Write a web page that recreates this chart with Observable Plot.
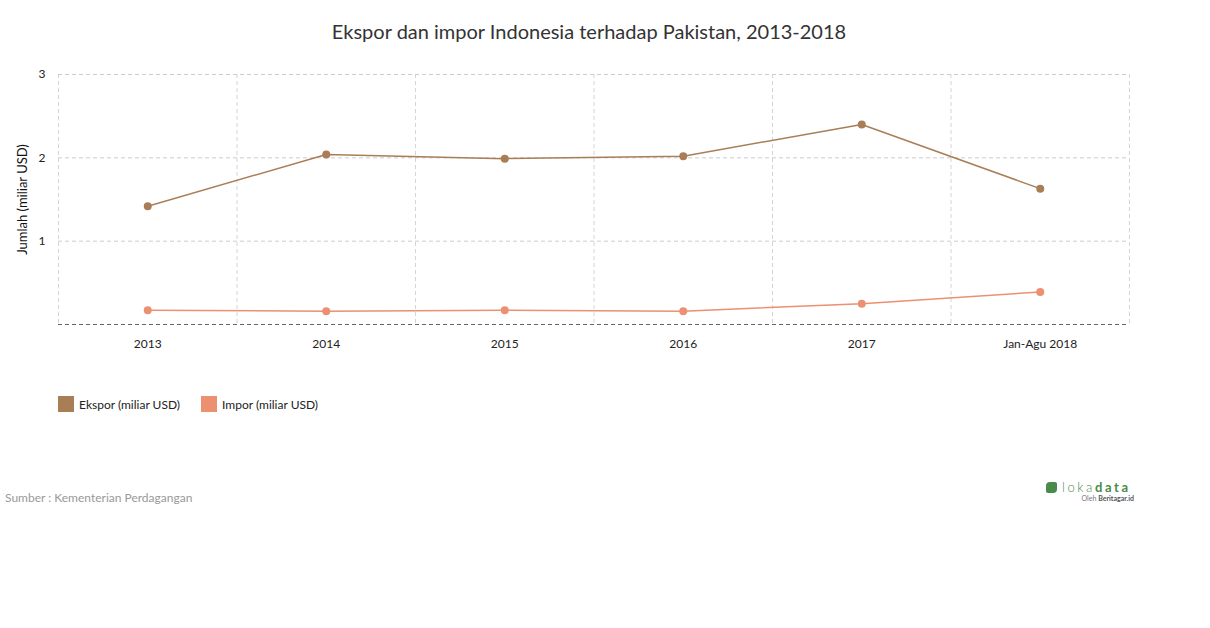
<!DOCTYPE html>
<html>
<head>
<meta charset="utf-8">
<script src="https://cdn.jsdelivr.net/npm/d3@7"></script>
<script src="https://cdn.jsdelivr.net/npm/@observablehq/plot@0.6"></script>
<style>
  html, body { margin: 0; padding: 0; background: #fff; }
  body { width: 1210px; height: 628px; overflow: hidden; font-family: Lato, "Open Sans", sans-serif; }
  #wrap { position: relative; width: 1210px; height: 628px; }
  #title { position: absolute; left: 0; top: 19px; width: 1178px; text-align: center; font-size: 20px; color: #333; }
  #chart { position: absolute; left: 0; top: 0; }
  #legend { position: absolute; left: 58px; top: 396px; font-size: 12px; color: #222; display: flex; align-items: center; }
  .item { display: flex; align-items: center; margin-right: 21px; }
  .sw { width: 16px; height: 16px; display: inline-block; margin-right: 5px; }
  #source { position: absolute; left: 5px; top: 490px; font-size: 12px; color: #999; }
  #logo { position: absolute; left: 1046px; top: 480px; width: 90px; color: #4a8a4a; }
  #logo .main { font-size: 13px; letter-spacing: 2.6px; line-height: 14px; white-space: nowrap; }
  #logo .leaf { display: inline-block; width: 11px; height: 11px; background: #4a8a4a; border-radius: 4px 2px 4px 2px; margin-right: 5px; vertical-align: -1px; }
  #logo .sub { font-size: 7px; color: #777; text-align: right; padding-right: 2px; line-height: 9px; }
  #logo .sub b { color: #555; }
</style>
</head>
<body>
<div id="wrap">
  <div id="title">Ekspor dan impor Indonesia terhadap Pakistan, 2013-2018</div>
  <div id="chart"></div>
  <div id="legend"></div>
  <div id="source">Sumber : Kementerian Perdagangan</div>
  <div id="logo">
    <div class="main"><span class="leaf"></span><span style="font-weight:300">loka</span><span style="font-weight:700">data</span></div>
    <div class="sub">Oleh <b>Beritagar.id</b></div>
  </div>
</div>
<script>
const categories = ["2013", "2014", "2015", "2016", "2017", "Jan-Agu 2018"];
const ekspor = [1.42, 2.04, 1.99, 2.02, 2.40, 1.63];
const impor = [0.17, 0.16, 0.17, 0.16, 0.25, 0.39];
const seriesNames = ["Ekspor (miliar USD)", "Impor (miliar USD)"];
const seriesColors = ["#a97e57", "#ec9071"];
const yTicks = [1, 2, 3];
const yLabel = "Jumlah (miliar USD)";

const rows = [];
categories.forEach((c, i) => {
  rows.push({i, cat: c, series: seriesNames[0], value: ekspor[i]});
  rows.push({i, cat: c, series: seriesNames[1], value: impor[i]});
});
const n = categories.length;
const boundaries = d3.range(n + 1).map(k => k - 0.5);

const plot = Plot.plot({
  width: 1210,
  height: 370,
  marginLeft: 58,
  marginRight: 81,
  marginTop: 74,
  marginBottom: 46,
  style: {fontFamily: "Lato, 'Open Sans', sans-serif", fontSize: "12px", color: "#222", background: "transparent"},
  x: {type: "linear", domain: [-0.5, n - 0.5], ticks: d3.range(n), tickFormat: k => categories[k], tickSize: 0, tickPadding: 15, label: null},
  y: {domain: [0, 3], ticks: yTicks, tickSize: 0, tickPadding: 13, label: null, tickFormat: d3.format("d")},
  color: {domain: seriesNames, range: seriesColors},
  marks: [
    Plot.ruleX(boundaries, {x: d => d, stroke: "#d4d4d4", strokeDasharray: "4,3"}),
    Plot.ruleY(yTicks, {y: d => d, stroke: "#cccccc", strokeDasharray: "4,3"}),
    Plot.ruleY([0], {y: d => d, stroke: "#666", strokeDasharray: "4,3"}),
    Plot.line(rows, {x: "i", y: "value", z: "series", stroke: "series", strokeWidth: 1.5}),
    Plot.dot(rows, {x: "i", y: "value", fill: "series", r: 4}),
    Plot.text([yLabel], {text: d => d, frameAnchor: "left", textAnchor: "middle", rotate: -90, dx: -36, fontSize: 13, fill: "#111"})
  ]
});
document.getElementById("chart").appendChild(plot);

const legend = document.getElementById("legend");
seriesNames.forEach((s, k) => {
  const item = document.createElement("div");
  item.className = "item";
  const sw = document.createElement("span");
  sw.className = "sw";
  sw.style.background = seriesColors[k];
  const t = document.createElement("span");
  t.textContent = s;
  item.appendChild(sw);
  item.appendChild(t);
  legend.appendChild(item);
});
</script>
</body>
</html>
